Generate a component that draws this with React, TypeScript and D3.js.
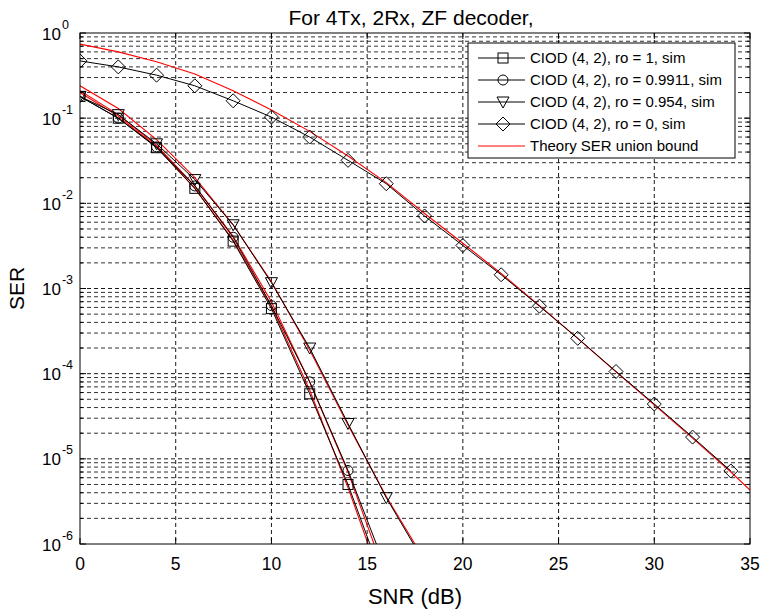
import * as d3 from "d3";

const snr = [0, 2, 4, 6, 8, 10, 12, 14, 16, 18, 20, 22, 24, 26, 28, 30, 32, 34];

// simulated SER, one array per correlation ro
const simRo1 = [0.18, 0.1, 0.045, 0.015, 3.6e-3, 5.8e-4, 5.8e-5, 5e-6, 3e-7];
const simRo09911 = [0.18, 0.1, 0.046, 0.016, 4e-3, 6.3e-4, 8e-5, 7.3e-6, 5e-7];
const simRo0954 = [0.18, 0.11, 0.05, 0.019, 5.6e-3, 1.17e-3, 2e-4, 2.6e-5, 3.5e-6, 6e-7];
const simRo0 = [0.47, 0.4, 0.32, 0.24, 0.16, 0.103, 0.06, 0.032, 0.017, 7.1e-3, 3.2e-3, 1.45e-3, 6.2e-4, 2.6e-4, 1.06e-4, 4.4e-5, 1.8e-5, 7.2e-6];

// theory union bound
const theorySnr = [0, 2, 4, 6, 8, 10, 12, 14, 16, 18, 20, 22, 24, 26, 28, 30, 32, 34, 35];
const thRo1 = [0.2, 0.105, 0.046, 0.015, 3.7e-3, 6.2e-4, 6.4e-5, 4.6e-6, 2.5e-7];
const thRo09911 = [0.21, 0.11, 0.048, 0.016, 4.1e-3, 7e-4, 8e-5, 7e-6, 4e-7];
const thRo0954 = [0.24, 0.13, 0.056, 0.02, 5.6e-3, 1.2e-3, 1.9e-4, 2.5e-5, 3.6e-6, 6.5e-7];
const thRo0 = [0.74, 0.6, 0.46, 0.33, 0.21, 0.125, 0.07, 0.036, 0.0175, 7.6e-3, 3.4e-3, 1.5e-3, 6.3e-4, 2.6e-4, 1.05e-4, 4.3e-5, 1.75e-5, 7e-6, 4.3e-6];

const xTicks = [0, 5, 10, 15, 20, 25, 30, 35];
const yExps = [0, -1, -2, -3, -4, -5, -6];
const legendLabels = [
  "CIOD (4, 2), ro = 1, sim",
  "CIOD (4, 2), ro = 0.9911, sim",
  "CIOD (4, 2), ro = 0.954, sim",
  "CIOD (4, 2), ro = 0, sim",
  "Theory SER union bound",
];

const W = 763;
const H = 610;
const left = 80;
const right = 750;
const top = 33;
const bottom = 544;
const font = "'Liberation Sans', Arial, Helvetica, sans-serif";

type Marker = "square" | "circle" | "tri" | "diamond";

function MarkerShape({ kind, x, y }: { kind: Marker; x: number; y: number }) {
  const s = 5;
  if (kind === "square")
    return <rect x={x - s} y={y - s} width={2 * s} height={2 * s} fill="none" stroke="#000" />;
  if (kind === "circle") return <circle cx={x} cy={y} r={5} fill="none" stroke="#000" />;
  if (kind === "tri")
    return (
      <path d={`M${x - 6},${y - 5}L${x + 6},${y - 5}L${x},${y + 6}Z`} fill="none" stroke="#000" />
    );
  return (
    <path d={`M${x},${y - 7}L${x + 7},${y}L${x},${y + 7}L${x - 7},${y}Z`} fill="none" stroke="#000" />
  );
}

export default function App() {
  const x = d3.scaleLinear().domain([0, 35]).range([left, right]);
  const y = d3.scaleLog().domain([1e-6, 1]).range([bottom, top]);

  const line = d3
    .line<[number, number]>()
    .x((d) => x(d[0]))
    .y((d) => y(d[1]));

  const sims: { v: number[]; m: Marker }[] = [
    { v: simRo1, m: "square" },
    { v: simRo09911, m: "circle" },
    { v: simRo0954, m: "tri" },
    { v: simRo0, m: "diamond" },
  ];
  const theories = [thRo1, thRo09911, thRo0954, thRo0];

  const minor: number[] = [];
  for (let e = -6; e < 0; e++) for (let k = 2; k <= 9; k++) minor.push(k * Math.pow(10, e));

  const gridStyle = { stroke: "#000", strokeDasharray: "4,3", strokeWidth: 1, opacity: 0.9 };

  const legX = 468;
  const legY = 43;
  const rowY = [58, 80, 102, 124, 146];
  const legMarkers: Marker[] = ["square", "circle", "tri", "diamond"];

  return (
    <svg
      width={W}
      height={H}
      style={{ position: "absolute", left: 0, top: 0, background: "#fff" }}
      fontFamily={font}
    >
      <defs>
        <clipPath id="plot">
          <rect x={left} y={top} width={right - left} height={bottom - top} />
        </clipPath>
      </defs>
      <rect width={W} height={H} fill="#fff" />

      {/* grid */}
      <g>
        {xTicks.slice(1, -1).map((t) => (
          <line key={t} x1={x(t)} x2={x(t)} y1={top} y2={bottom} style={gridStyle} />
        ))}
        {yExps.slice(1, -1).map((e) => (
          <line key={e} x1={left} x2={right} y1={y(Math.pow(10, e))} y2={y(Math.pow(10, e))} style={gridStyle} />
        ))}
        {minor.map((v) => (
          <line key={v} x1={left} x2={right} y1={y(v)} y2={y(v)} style={{ ...gridStyle, opacity: 0.8 }} />
        ))}
      </g>

      {/* curves */}
      <g clipPath="url(#plot)">
        {theories.map((v, i) => (
          <path
            key={"t" + i}
            d={line(v.map((d, j) => [theorySnr[j], d] as [number, number])) || ""}
            fill="none"
            stroke="#ff0000"
            strokeWidth={1.1}
          />
        ))}
        {sims.map((s, i) => (
          <g key={"s" + i}>
            <path
              d={line(s.v.map((d, j) => [snr[j], d] as [number, number])) || ""}
              fill="none"
              stroke="#000"
              strokeWidth={1}
            />
            {s.v.map((d, j) => (
              <MarkerShape key={j} kind={s.m} x={x(snr[j])} y={y(d)} />
            ))}
          </g>
        ))}
      </g>

      {/* axes box and ticks */}
      <rect x={left} y={top} width={right - left} height={bottom - top} fill="none" stroke="#000" strokeWidth={1} />
      {xTicks.map((t) => (
        <g key={t}>
          <line x1={x(t)} x2={x(t)} y1={bottom} y2={bottom - 6} stroke="#000" />
          <line x1={x(t)} x2={x(t)} y1={top} y2={top + 6} stroke="#000" />
          <text x={x(t)} y={570} textAnchor="middle" fontSize={17.5}>
            {t}
          </text>
        </g>
      ))}
      {yExps.map((e) => {
        const py = y(Math.pow(10, e));
        return (
          <g key={e}>
            <line x1={left} x2={left + 6} y1={py} y2={py} stroke="#000" />
            <line x1={right} x2={right - 6} y1={py} y2={py} stroke="#000" />
            <text x={42} y={py + 6.5} fontSize={17}>
              10
              <tspan dx={1} dy={-11} fontSize={12.5}>
                {e}
              </tspan>
            </text>
          </g>
        );
      })}
      {minor.map((v) => (
        <g key={"m" + v}>
          <line x1={left} x2={left + 3} y1={y(v)} y2={y(v)} stroke="#000" />
          <line x1={right} x2={right - 3} y1={y(v)} y2={y(v)} stroke="#000" />
        </g>
      ))}

      {/* labels */}
      <text x={411} y={25} textAnchor="middle" fontSize={21}>
        For 4Tx, 2Rx, ZF decoder,
      </text>
      <text x={415} y={604} textAnchor="middle" fontSize={22}>
        SNR (dB)
      </text>
      <text transform={`translate(24,${(top + bottom) / 2}) rotate(-90)`} textAnchor="middle" fontSize={21}>
        SER
      </text>

      {/* legend */}
      <rect x={legX} y={legY} width={735 - legX} height={158 - legY} fill="#fff" stroke="#000" />
      {legendLabels.map((lab, i) => (
        <g key={lab}>
          <line x1={478} x2={525} y1={rowY[i]} y2={rowY[i]} stroke={i < 4 ? "#000" : "#ff0000"} />
          {i < 4 && <MarkerShape kind={legMarkers[i]} x={503} y={rowY[i]} />}
          <text x={530} y={rowY[i] + 5} fontSize={15}>
            {lab}
          </text>
        </g>
      ))}
    </svg>
  );
}
